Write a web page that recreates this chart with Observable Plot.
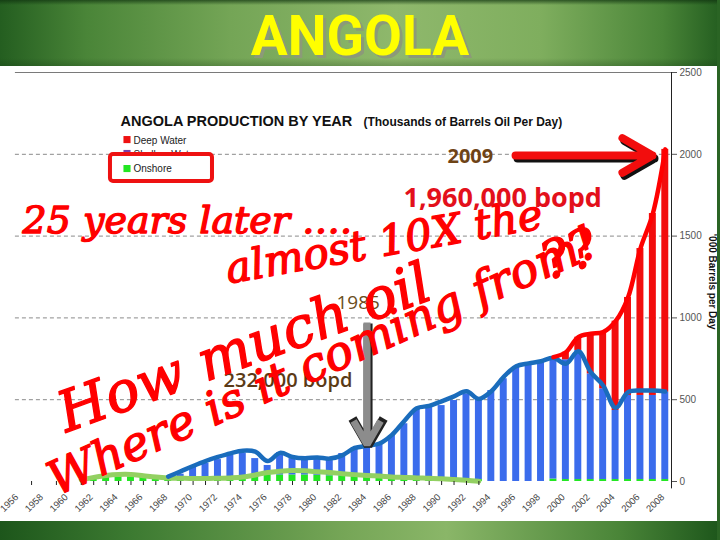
<!DOCTYPE html>
<html><head><meta charset="utf-8">
<script src="https://cdn.jsdelivr.net/npm/d3@7"></script>
<script src="https://cdn.jsdelivr.net/npm/@observablehq/plot@0.6"></script>
<style>
html,body{margin:0;padding:0;background:#fff}
#slide{position:relative;width:720px;height:540px;overflow:hidden;background:#fff;font-family:"Liberation Sans",Arial,sans-serif}
#hdr{position:absolute;left:0;top:0;width:720px;height:66px;background:linear-gradient(to right,#245e20 0%,#4a8538 12%,#74a556 32%,#8fb86c 55%,#7fae5e 75%,#4a8538 92%,#245e20 100%)}
#hdr::before{content:"";position:absolute;left:0;top:0;width:100%;height:66px;background:linear-gradient(to bottom,rgba(15,50,15,.7) 0px,rgba(0,0,0,0) 5px,rgba(0,0,0,0) 58px,rgba(15,50,15,.25) 66px)}
#title{position:absolute;left:0;top:3px;width:720px;text-align:center;font:700 55px Roboto,"Liberation Sans",sans-serif;line-height:66px;color:#ffff00;text-shadow:3px 3px 0 #8c9a78}
#chart{position:absolute;left:0;top:66px}
#ftr{position:absolute;left:0;top:521px;width:720px;height:19px;background:linear-gradient(to right,#1d561b 0%,#3c7a31 18%,#76a657 48%,#8ab668 62%,#4a8538 86%,#1d561b 100%)}
#rb{position:absolute;right:0;top:0;width:3px;height:540px;background:#2a6424}
</style></head>
<body><div id="slide"><div id="hdr"><div id="title">ANGOLA</div></div><div id="chart"></div><div id="ftr"></div><div id="rb"></div></div>
<script>
// ---------- data (thousand barrels per day) ----------
const years = d3.range(1956, 2010);
const onshore = [
  0,0,0,0,0,0,0,            // 1956-1962
  15,25,30,28,25,25,25,     // 1963-1969
  22,22,22,22,25,25,35,40,40,40, // 1970-1979
  40,38,35,32,30,30,28,25,25,25, // 1980-1989
  22,20,18,15,12,0,0,0,0,0,      // 1990-1999
  15,12,12,12,12,12,12,12,12,12  // 2000-2009
];
const shallow = [
  0,0,0,0,0,0,0,
  0,0,0,0,0,0,0,
  23,70,88,112,134,146,105,58,137,100,
  113,109,93,139,172,190,204,256,328,419,
  436,444,477,521,499,556,628,699,709,729,
  745,732,789,646,555,422,514,514,514,534
];
const deep = [
  0,0,0,0,0,0,0,
  0,0,0,0,0,0,0,
  0,0,0,0,0,0,0,0,0,0,
  0,0,0,0,0,0,0,0,0,0,
  0,0,0,0,0,0,0,0,0,0,
  0,46,81,245,346,546,599,898,1112,1484
];
// hand-drawn trend lines
const shallowTrendYears = d3.range(1969, 2010);
const shallowTrend = [30,62,95,125,150,172,188,182,125,175,150,142,147,140,160,205,218,232,285,370,448,
  462,490,520,552,505,552,640,705,722,735,756,720,796,668,587,450,546,556,556,550];
const trendYears = d3.range(1962, 1995);
const onshoreTrend = [10,25,37,43,43,35,27,22,20,18,18,20,22,27,40,55,63,67,65,60,55,48,42,37,33,28,25,22,20,17,12,7,2];
const labelYears = d3.range(1956, 2009, 2);
const tickYears = [1958, 1960, ...d3.range(1962, 1995)];
const yTicks = [0, 500, 1000, 1500, 2000, 2500];
const gridVals = [500, 1000, 1500, 2000];
const seriesNames = ["Deep Water", "Shallow Water", "Onshore"];

const RED = "#f20d0d", BLUE = "#3b6cec", GREEN = "#22e622";

// ---------- derived tables ----------
const rows = [];
years.forEach((yr, i) => {
  const a = onshore[i], b = shallow[i], c = deep[i];
  if (a) rows.push({year: yr, y1: 0, y2: a, fill: GREEN});
  if (b) rows.push({year: yr, y1: a, y2: a + b, fill: BLUE});
  if (c) rows.push({year: yr, y1: a + b, y2: a + b + c, fill: RED});
});
const blueLine = shallowTrendYears.map((yr, i) => ({year: yr, v: shallowTrend[i]}));
const redLine = years.map((yr, i) => ({year: yr, v: onshore[i] + shallow[i] + deep[i]})).filter(d => d.year >= 2000);
const greenLine = trendYears.map((yr, i) => ({year: yr, v: onshoreTrend[i]}));

const SCRIPT = "DejaVu Serif, serif";
const SANS = "Liberation Sans, Arial, sans-serif";
const CAL = "Open Sans, sans-serif";
const script = (size, rot) => ({text: d => d, rotate: rot, textAnchor: "start", lineAnchor: "bottom", fontSize: size, fontStyle: "italic", fontFamily: SCRIPT, fill: "#f00", stroke: "#f00", strokeWidth: 1.4});

const plot = Plot.plot({
  width: 720, height: 455,
  marginLeft: 0, marginRight: 49, marginTop: 6, marginBottom: 40,
  x: {domain: [1955.5, 2009.5], axis: null},
  y: {domain: [0, 2500], axis: null},
  color: {type: "identity"},
  style: {background: "transparent", overflow: "visible", fontFamily: SANS},
  marks: [
    Plot.ruleY(gridVals, {x1: 1956.7, x2: 2009.5, stroke: "#8a8a8a", strokeDasharray: "4,3"}),
    Plot.ruleY([2500], {x1: 1956.7, x2: 2009.5, stroke: "#7a7a7a"}),
    Plot.rect(rows, {x1: d => d.year - 0.28, x2: d => d.year + 0.28, y1: "y1", y2: "y2", fill: "fill"}),
    Plot.line(greenLine, {x: "year", y: "v", stroke: "#93d062", strokeWidth: 5, curve: "catmull-rom", strokeLinecap: "round"}),
    Plot.line(blueLine, {x: "year", y: "v", stroke: "#1a6cbc", strokeWidth: 4.5, curve: "catmull-rom", strokeLinecap: "round"}),
    Plot.line(redLine, {x: "year", y: "v", stroke: "#ff0000", strokeWidth: 4.5, curve: "catmull-rom", strokeLinecap: "round"}),
    Plot.ruleX([2009.5], {y1: -45, y2: 2500, stroke: "#222"}),
    Plot.axisY({anchor: "right", ticks: yTicks, tickSize: 5, tickPadding: 3, fontSize: 10, color: "#555", label: null, tickFormat: d => String(d)}),
    Plot.axisX({ticks: tickYears, tickSize: 4, tickFormat: () => "", color: "#222", label: null}),
    Plot.text(labelYears, {x: d => d, y: 0, text: d => String(d), rotate: -45, textAnchor: "end", lineAnchor: "middle", dx: 10, dy: 14, fontSize: 9.5, fill: "#444"}),
    Plot.text(["'000 Barrels per Day"], {x: 2009.5, y: 1222, dx: 41, text: d => d, rotate: 90, fontSize: 10, fontWeight: "bold", fill: "#111"}),
    // chart title & legend
    Plot.text(["ANGOLA PRODUCTION BY YEAR"], {x: 1965.16, y: 2176, text: d => d, textAnchor: "start", lineAnchor: "bottom", fontSize: 14.5, fontWeight: "bold", fill: "#111"}),
    Plot.text(["(Thousands of Barrels Oil Per Day)"], {x: 1984.71, y: 2176, text: d => d, textAnchor: "start", lineAnchor: "bottom", fontSize: 12, fontWeight: "bold", fill: "#111"}),
    Plot.dot([0], {x: 1965.68, y: 2090, symbol: "square", r: 4, fill: "#ee1111"}),
    Plot.text([seriesNames[0]], {x: 1966.2, y: 2066, text: d => d, textAnchor: "start", lineAnchor: "bottom", fontSize: 10, fill: "#222"}),
    Plot.dot([0], {x: 1965.68, y: 2005, symbol: "square", r: 4, fill: "#7a3fa8"}),
    Plot.text([seriesNames[1]], {x: 1966.2, y: 1978, text: d => d, textAnchor: "start", lineAnchor: "bottom", fontSize: 10, fill: "#222"}),
    Plot.rect([0], {x1: 1964.35, x2: 1972.56, y1: 1834, y2: 1999, fill: "white", stroke: "#ee1111", strokeWidth: 4, rx: 3}),
    Plot.dot([0], {x: 1965.68, y: 1913, symbol: "square", r: 4, fill: GREEN}),
    Plot.text([seriesNames[2]], {x: 1966.2, y: 1889, text: d => d, textAnchor: "start", lineAnchor: "bottom", fontSize: 10, fill: "#222"}),
    // 1985 annotation
    Plot.text(["1985"], {x: 1982.54, y: 1057, text: d => d, textAnchor: "start", lineAnchor: "bottom", fontSize: 19, fontFamily: CAL, fill: "#6b4e1c"}),
    Plot.text(["232,000 bopd"], {x: 1973.45, y: 575, text: d => d, textAnchor: "start", lineAnchor: "bottom", fontSize: 20, fontWeight: 600, fontFamily: CAL, fill: "#5b3a16"}),
    Plot.arrow([0], {x1: 1985, y1: 972, x2: 1985, y2: 226, dx: 1, dy: 1, stroke: "#222", strokeWidth: 9, headLength: 5.2, strokeLinecap: "butt"}),
    Plot.arrow([0], {x1: 1985, y1: 972, x2: 1985, y2: 226, stroke: "#8c8c8c", strokeWidth: 7, headLength: 5.8, strokeLinecap: "butt"}),
    // red script annotations
    Plot.text(["25 years later …."], {x: 1957.27, y: 1516, ...script(38, 0)}),
    Plot.text(["almost 10X the"], {x: 1973.85, y: 1210, ...script(42, -10)}),
    Plot.text(["How much oil"], {x: 1960.8, y: 300, ...script(56, -20)}),
    Plot.text(["??"], {x: 1999.6, y: 1230, ...script(52, -20)}),
    Plot.text(["Where is it coming from!"], {x: 1960.0, y: -90, ...script(47, -24)}),
    // 2009 annotation
    Plot.text(["2009"], {x: 1991.47, y: 1944, text: d => d, textAnchor: "start", lineAnchor: "bottom", fontSize: 20, fontWeight: "bold", fontFamily: CAL, fill: "#6e4316"}),
    Plot.arrow([0], {x1: 1996.95, y1: 1993, x2: 2007.97, y2: 1993, dx: 2, dy: 3, stroke: "#111", strokeWidth: 8, headLength: 6.5}),
    Plot.arrow([0], {x1: 1996.95, y1: 1993, x2: 2007.97, y2: 1993, stroke: "#f20d0d", strokeWidth: 8, headLength: 6.5}),
    Plot.text(["1,960,000 bopd"], {x: 1987.93, y: 1675, text: d => d, textAnchor: "start", lineAnchor: "bottom", fontSize: 27, fontWeight: "bold", fontFamily: CAL, fill: "#e3101b"})
  ]
});
document.getElementById("chart").appendChild(plot);
</script>
</body></html>
